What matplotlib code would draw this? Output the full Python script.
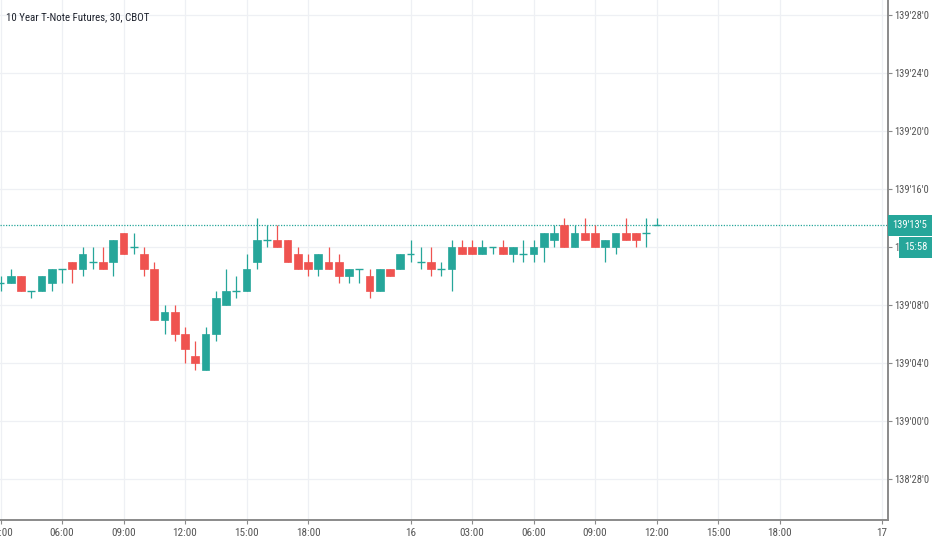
import matplotlib
matplotlib.use("Agg")
import matplotlib.pyplot as plt
from matplotlib import font_manager
from matplotlib.patches import Rectangle
import numpy as np

# 30 min bars, prices in 32nds above 139'00
opens  = [9.5, 9.5, 10, 9, 9, 9.5, 10.5, 11, 10.5, 11, 11, 11, 13, 12, 11.5, 10.5,
          7, 7.5, 6, 4.5, 3.5, 6, 8, 9, 9, 11, 12.5, 12.5, 12.5, 11.5, 11, 10.5,
          11, 11, 10, 10.5, 10, 9, 10.5, 10.5, 11.5, 11, 11, 10.5, 10.5, 12, 12, 11.5,
          12, 12, 11.5, 11.5, 11.5, 12, 12.5, 13.5, 12, 13, 13, 12, 12, 13, 13, 13, 13.5]
highs  = [10, 10.5, 10, 9, 10, 10.5, 10.5, 11, 12, 12, 12, 12.5, 13, 13, 12, 11,
          8, 8, 6.5, 5.5, 6.5, 9, 10.5, 10, 11.5, 14, 13.5, 13.5, 12.5, 12, 11.5, 11.5,
          12, 11.5, 10.5, 10.5, 10.5, 10.5, 10.5, 11.5, 12.5, 12, 12, 11, 12.5, 12.5, 12.5, 12.5,
          12, 12.5, 12, 12.5, 12.5, 13, 13.5, 14, 13.5, 14, 13.5, 12.5, 13, 14, 13, 14, 14]
lows   = [9, 9.5, 9, 8.5, 9, 9, 9.5, 9.5, 10, 10.5, 10.5, 10, 11.5, 11.5, 10, 7,
          6, 5.5, 4, 3.5, 3.5, 5.5, 8, 8.5, 9, 10.5, 12, 12, 11, 10.5, 10, 10,
          10.5, 9.5, 9.5, 9.5, 8.5, 9, 10, 10.5, 11, 10.5, 10, 10, 9, 11.5, 11.5, 11.5,
          11.5, 11.5, 11, 11, 11, 11, 12, 12, 12, 12.5, 12, 11, 11.5, 12.5, 12, 12, 13.5]
closes = [9.5, 10, 9, 9, 10, 10.5, 10.5, 10.5, 11.5, 11, 10.5, 12.5, 11.5, 12, 10.5, 7,
          7.5, 6, 5, 4, 6, 8.5, 9, 9, 10.5, 12.5, 12.5, 12, 11, 10.5, 10.5, 11.5,
          10.5, 10, 10.5, 10.5, 9, 10.5, 10, 11.5, 11.5, 11, 10.5, 10.5, 12, 11.5, 11.5, 12,
          12, 11.5, 12, 11.5, 12, 13, 13, 12, 13, 12.5, 12, 12.5, 13, 12.5, 12.5, 13, 13.5]

tick_pos = [0, 6, 12, 18, 24, 30, 40, 46, 52, 58, 64, 70, 76, 86]
tick_lbl = ["03:00", "06:00", "09:00", "12:00", "15:00", "18:00", "16",
            "03:00", "06:00", "09:00", "12:00", "15:00", "18:00", "17"]
price_ticks = [-4, 0, 4, 8, 12, 16, 20, 24, 28]
last_price = 13.5
countdown = "15:58"
title = "10 Year T-Note Futures, 30, CBOT"

UP = "#26a69a"
DOWN = "#ef5350"


def pick_font(names):
    for n in names:
        try:
            font_manager.findfont(n, fallback_to_default=False)
            return n
        except Exception:
            pass
    return "DejaVu Sans"


FONT = pick_font(["Liberation Sans Narrow", "DejaVu Sans Condensed", "Roboto Condensed", "Liberation Sans"])
plt.rcParams["font.family"] = [FONT, "DejaVu Sans"]


def fmt_price(v):
    base = int(np.floor(v / 32))
    frac = v - base * 32
    n = int(frac)
    h = int(round((frac - n) * 10))
    return "%d'%02d'%d" % (139 + base, n, h)


W, H = 932, 550
fig = plt.figure(figsize=(W / 100, H / 100), dpi=100)
ax = fig.add_axes([0, 30 / H, 888 / W, 520 / H])

idx = np.arange(len(opens))
o = np.array(opens); c = np.array(closes)
hi = np.array(highs); lo = np.array(lows)
up = c >= o
cols = np.where(up, UP, DOWN)

ax.vlines(idx, lo, hi, colors=cols, linewidth=0.9, zorder=3)
body_lo = np.minimum(o, c)
body_h = np.abs(c - o)
flat = body_h == 0
ax.bar(idx[~flat], body_h[~flat], bottom=body_lo[~flat], width=0.78,
       color=cols[~flat], edgecolor=cols[~flat], linewidth=0.5, zorder=4)
ax.hlines(o[flat], idx[flat] - 0.39, idx[flat] + 0.39, colors=cols[flat],
          linewidth=1.0, zorder=4)

# last price line
ax.axhline(last_price, color=UP, linestyle=(0, (1, 1.2)), linewidth=0.9, zorder=2)

ax.set_xlim(-0.5 / 10.25, 887.5 / 10.25)
ax.set_ylim((421 - 520) / 14.5, 421 / 14.5)

ax.set_xticks(tick_pos)
ax.set_xticklabels(tick_lbl)
ax.set_yticks(price_ticks)
ax.set_yticklabels([fmt_price(v) for v in price_ticks])
ax.yaxis.tick_right()
ax.grid(True, color="#eef0f4", linewidth=0.9, zorder=0)
ax.set_axisbelow(True)

for s in ["top", "left"]:
    ax.spines[s].set_visible(False)
for s in ["bottom", "right"]:
    ax.spines[s].set_color("#8a8a8a")
    ax.spines[s].set_linewidth(1.4)

ax.tick_params(axis="x", length=3, width=0.8, color="#8a8a8a", labelsize=8,
               labelcolor="#555555", pad=3)
ax.tick_params(axis="y", length=3, width=0.8, color="#8a8a8a", labelsize=7.6,
               labelcolor="#555555", pad=1.5)

fig.text(6 / W, 1 - 17 / H, title, fontsize=7.8, color="#1e222d", va="center", ha="left")

# price scale labels for last price and bar countdown
y_last = 421 - last_price * 14.5
fig.patches.append(Rectangle((888 / W, 1 - (y_last + 10.5) / H), 44 / W, 21 / H,
                             transform=fig.transFigure, facecolor=UP, edgecolor="none"))
fig.text(910 / W, 1 - y_last / H, fmt_price(last_price), fontsize=7.6, color="white",
         ha="center", va="center")
fig.patches.append(Rectangle((899 / W, 1 - (y_last + 32.5) / H), 33 / W, 21 / H,
                             transform=fig.transFigure, facecolor=UP, edgecolor="none"))
fig.text(915.5 / W, 1 - (y_last + 22) / H, countdown, fontsize=7.6, color="white",
         ha="center", va="center")

fig.savefig("out.png", dpi=100, facecolor="white")
